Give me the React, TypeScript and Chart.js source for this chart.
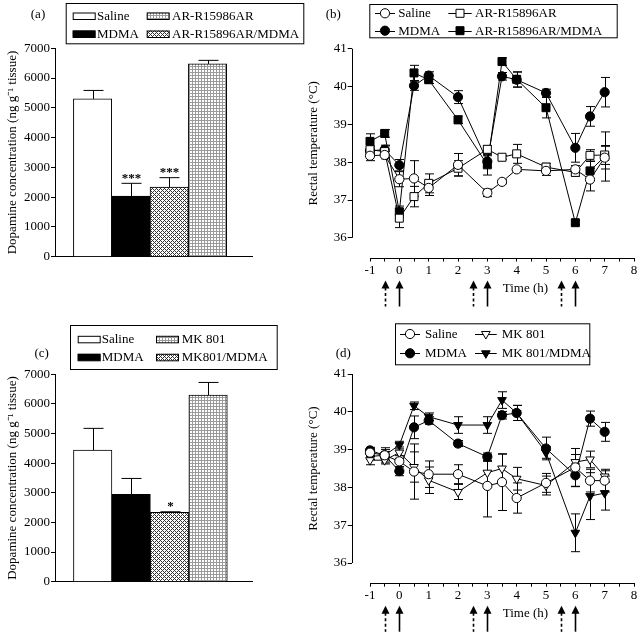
import React, { useEffect, useRef } from 'react';
import { Chart, registerables } from 'chart.js';

Chart.register(...registerables);

const FONT = '"Liberation Serif", "Times New Roman", Times, serif';
Chart.defaults.font.family = FONT;
Chart.defaults.font.size = 13;
Chart.defaults.color = '#000';

// ---------------- data ----------------
// Panel (a)
const barGroupsA = ['Saline', 'MDMA', 'AR-R15896AR/MDMA', 'AR-R15986AR'];
const barValuesA = [5300, 2040, 2340, 6475];
const barErrorsA = [285, 425, 315, 120];
const barStarsA = ['', '***', '***', ''];

// Panel (c)
const barGroupsC = ['Saline', 'MDMA', 'MK801/MDMA', 'MK 801'];
const barValuesC = [4445, 2945, 2340, 6300];
const barErrorsC = [730, 540, 20, 425];
const barStarsC = ['', '', '*', ''];

const concTicks = [0, 1000, 2000, 3000, 4000, 5000, 6000, 7000];
const tempTicks = [36, 37, 38, 39, 40, 41];
const timeTicks = [-1, -0.5, 0, 0.5, 1, 1.5, 2, 2.5, 3, 3.5, 4, 4.5, 5, 5.5, 6, 6.5, 7, 7.5, 8];

const times = [-1, -0.5, 0, 0.5, 1, 2, 3, 3.5, 4, 5, 6, 6.5, 7];
const injectionTimes = [-0.5, 0, 2.5, 3, 5.5, 6];
const injectionDashed = [true, false, true, false, true, false];

// Panel (b)
const salineB = [38.17, 38.19, 37.55, 37.57, 37.32, 37.93, 37.19, 37.48, 37.81, 37.77, 37.81, 37.54, 38.12];
const salineErrB = [0.13, 0.1, 0.2, 0.47, 0.2, 0.3, 0.1, 0.05, 0.05, 0.12, 0.1, 0.3, 0.3];
const arB = [38.33, 38.28, 36.52, 37.09, 37.44, 37.84, 38.34, 38.13, 38.22, 37.87, 37.73, 38.18, 38.19];
const arErrB = [0.1, 0.15, 0.25, 0.27, 0.25, 0.2, 0.1, 0.05, 0.25, 0.1, 0.1, 0.15, 0.25];
const mdmaB = [38.3, 38.33, 37.92, 40.02, 40.29, 39.72, 38.02, 40.27, 40.18, 39.83, 38.38, 39.21, 39.85];
const mdmaErrB = [0.1, 0.12, 0.15, 0.12, 0.1, 0.17, 0.15, 0.1, 0.2, 0.1, 0.38, 0.26, 0.39];
const arMdmaB = [38.55, 38.76, 36.69, 40.36, 40.18, 39.12, 37.93, 40.66, 40.19, 39.44, 36.4, 37.77, 38.15];
const arMdmaErrB = [0.2, 0.1, 0.15, 0.2, 0.1, 0.1, 0.27, 0.1, 0.2, 0.27, 0.05, 0.25, 0.65];

// Panel (d)
const salineD = [38.92, 38.85, 38.69, 38.42, 38.35, 38.35, 38.04, 38.14, 37.72, 38.12, 38.53, 38.18, 38.18];
const salineErrD = [0.1, 0.15, 0.15, 0.73, 0.35, 0.25, 0.82, 0.75, 0.4, 0.25, 0.5, 0.3, 0.3];
const mkD = [38.72, 38.72, 38.92, 38.54, 38.19, 37.88, 38.39, 38.5, 38.23, 38.05, 38.67, 38.74, 38.29];
const mkErrD = [0.12, 0.1, 0.15, 0.4, 0.35, 0.2, 0.3, 0.38, 0.3, 0.25, 0.2, 0.22, 0.15];
const mdmaD = [38.98, 38.85, 38.43, 39.59, 39.77, 39.16, 38.81, 39.91, 39.97, 39.03, 38.32, 39.82, 39.47];
const mdmaErrD = [0.08, 0.1, 0.12, 0.3, 0.1, 0.08, 0.1, 0.1, 0.2, 0.3, 0.3, 0.2, 0.25];
const mkMdmaD = [38.82, 38.85, 39.12, 40.16, 39.87, 39.65, 39.65, 40.31, 39.97, 38.92, 36.8, 37.77, 37.85];
const mkMdmaErrD = [0.08, 0.2, 0.1, 0.1, 0.1, 0.22, 0.22, 0.22, 0.2, 0.15, 0.5, 0.62, 0.45];

// ---------------- helpers ----------------
type Shape = 'circle' | 'rect' | 'triangle';

function makePatterns(ctx: CanvasRenderingContext2D) {
  const light = document.createElement('canvas');
  light.width = 3; light.height = 3;
  const lc = light.getContext('2d')!;
  lc.fillStyle = '#fff'; lc.fillRect(0, 0, 3, 3);
  lc.fillStyle = '#9a9a9a'; lc.fillRect(0, 0, 3, 1); lc.fillRect(0, 0, 1, 3);
  const dark = document.createElement('canvas');
  dark.width = 4; dark.height = 4;
  const dc = dark.getContext('2d')!;
  dc.fillStyle = '#fff'; dc.fillRect(0, 0, 4, 4);
  dc.fillStyle = '#333';
  for (let y = 0; y < 4; y++) for (let x = 0; x < 4; x++) {
    if ((x + y) % 4 === 0 || (x - y + 4) % 4 === 0) dc.fillRect(x, y, 1, 1);
  }
  return {
    light: ctx.createPattern(light, 'repeat') as CanvasPattern,
    dark: ctx.createPattern(dark, 'repeat') as CanvasPattern,
  };
}

function drawMarker(ctx: CanvasRenderingContext2D, shape: Shape, x: number, y: number, filled: boolean) {
  ctx.beginPath();
  if (shape === 'circle') ctx.arc(x, y, 4.6, 0, Math.PI * 2);
  else if (shape === 'rect') ctx.rect(x - 4, y - 4, 8, 8);
  else {
    const r = 5;
    ctx.moveTo(x, y + r);
    ctx.lineTo(x - 0.866 * r, y - 0.5 * r);
    ctx.lineTo(x + 0.866 * r, y - 0.5 * r);
    ctx.closePath();
  }
  ctx.fillStyle = filled ? '#000' : '#fff';
  ctx.fill();
  ctx.strokeStyle = '#000';
  ctx.lineWidth = 1;
  ctx.stroke();
}

function drawYTitle(ctx: CanvasRenderingContext2D, text: string, x: number, cy: number) {
  ctx.save();
  ctx.translate(x, cy);
  ctx.rotate(-Math.PI / 2);
  ctx.font = `13px ${FONT}`;
  ctx.fillStyle = '#000';
  ctx.textAlign = 'center';
  ctx.textBaseline = 'middle';
  ctx.fillText(text, 0, 0);
  ctx.restore();
}

function drawLabel(ctx: CanvasRenderingContext2D, text: string, x: number, y: number) {
  ctx.save();
  ctx.font = `13px ${FONT}`;
  ctx.fillStyle = '#000';
  ctx.textAlign = 'center';
  ctx.textBaseline = 'middle';
  ctx.fillText(text, x, y);
  ctx.restore();
}

type Area = { left: number; top: number; right: number; bottom: number };

// ---------------- bar panel ----------------
type BarProps = {
  left: number; top: number; w: number; h: number; area: Area;
  groups: string[]; values: number[]; errors: number[]; stars: string[];
  panel: string; panelPos: [number, number];
  legendBox: [number, number, number, number];
  legendSwatchX: [number, number]; legendTextX: [number, number]; legendRows: [number, number];
};

function BarPanel(p: BarProps) {
  const ref = useRef<HTMLCanvasElement>(null);
  useEffect(() => {
    const canvas = ref.current!;
    const pats = makePatterns(canvas.getContext('2d')!);
    const fills: (string | CanvasPattern)[] = ['#fff', '#000', pats.dark, pats.light];
    // legend layout: [groupIndex, col, row]
    const legendItems: [number, number, number][] = [[0, 0, 0], [1, 0, 1], [3, 1, 0], [2, 1, 1]];

    const decor = {
      id: 'barDecor',
      afterDatasetsDraw(chart: any) {
        const ctx: CanvasRenderingContext2D = chart.ctx;
        const meta = chart.getDatasetMeta(0);
        const ys = chart.scales.y;
        ctx.save();
        ctx.strokeStyle = '#000';
        ctx.lineWidth = 1;
        meta.data.forEach((el: any, i: number) => {
          const yt = ys.getPixelForValue(p.values[i] + p.errors[i]);
          const x = Math.round(el.x) + 0.5;
          ctx.beginPath();
          ctx.moveTo(x, el.y);
          ctx.lineTo(x, yt);
          ctx.moveTo(x - 10, yt);
          ctx.lineTo(x + 10, yt);
          ctx.stroke();
          if (p.stars[i]) {
            ctx.font = `bold 13px ${FONT}`;
            ctx.fillStyle = '#000';
            ctx.textAlign = 'center';
            ctx.textBaseline = 'alphabetic';
            ctx.fillText(p.stars[i], x, yt - 1.5);
          }
        });
        ctx.restore();
      },
      afterDraw(chart: any) {
        const ctx: CanvasRenderingContext2D = chart.ctx;
        const ca = chart.chartArea;
        drawYTitle(ctx, 'Dopamine concentration (ng g\u207B\u00B9 tissue)', 13, (ca.top + ca.bottom) / 2);
        drawLabel(ctx, p.panel, p.panelPos[0], p.panelPos[1]);
        ctx.save();
        const [bx1, by1, bx2, by2] = p.legendBox;
        ctx.strokeStyle = '#000';
        ctx.lineWidth = 1;
        ctx.strokeRect(bx1 + 0.5, by1 + 0.5, bx2 - bx1, by2 - by1);
        ctx.font = `13px ${FONT}`;
        ctx.textBaseline = 'middle';
        ctx.textAlign = 'left';
        legendItems.forEach(([gi, c, r]) => {
          const sx = p.legendSwatchX[c];
          const sy = p.legendRows[r];
          ctx.fillStyle = fills[gi] as any;
          ctx.fillRect(sx, sy - 3.5, 22.5, 7);
          ctx.strokeRect(sx + 0.5, sy - 3.5 + 0.5, 22, 6.5);
          ctx.fillStyle = '#000';
          ctx.fillText(p.groups[gi], p.legendTextX[c], sy + 0.5);
        });
        ctx.restore();
      },
    };

    const chart = new Chart(canvas, {
      type: 'bar',
      data: {
        datasets: [{
          label: 'Dopamine',
          data: p.values.map((v, i) => ({ x: i + 1, y: v })) as any,
          backgroundColor: fills as any,
          borderColor: '#000',
          borderWidth: 1,
          barPercentage: 1,
          categoryPercentage: 1,
        }],
      },
      options: {
        responsive: false,
        animation: false,
        layout: { padding: { top: p.area.top, right: p.w - p.area.right, bottom: 0, left: 0 } },
        plugins: { legend: { display: false }, tooltip: { enabled: false } },
        scales: {
          x: {
            type: 'linear', min: 0.02, max: 5.16, offset: false,
            afterFit: (s: any) => { s.height = p.h - p.area.bottom; },
            grid: { display: false, offset: false },
            border: { display: true, color: '#000', width: 1 },
            ticks: { display: false },
          },
          y: {
            min: 0, max: 7000,
            afterBuildTicks: (s: any) => { s.ticks = concTicks.map((v) => ({ value: v })); },
            afterFit: (s: any) => { s.width = p.area.left; },
            grid: { display: true, drawOnChartArea: false, drawTicks: true, tickLength: 4, color: '#000' },
            border: { display: true, color: '#000', width: 1 },
            ticks: { padding: 1, callback: (v: any) => String(v), font: { size: 13 } },
          },
        },
      },
      plugins: [decor],
    } as any);
    return () => chart.destroy();
  }, []);
  return (
    <canvas ref={ref} width={p.w} height={p.h}
      style={{ position: 'absolute', left: p.left, top: p.top, width: p.w, height: p.h }} />
  );
}

// ---------------- line panel ----------------
type Series = { label: string; values: number[]; errors: number[]; shape: Shape; filled: boolean; col: number; row: number };
type LineProps = {
  left: number; top: number; w: number; h: number; area: Area;
  series: Series[]; panel: string; panelPos: [number, number];
  legendBox: [number, number, number, number];
  legendLineX: [[number, number], [number, number]]; legendTextX: [number, number]; legendRows: [number, number];
};

function LinePanel(p: LineProps) {
  const ref = useRef<HTMLCanvasElement>(null);
  useEffect(() => {
    const canvas = ref.current!;
    const decor = {
      id: 'lineDecor',
      beforeDatasetsDraw(chart: any) {
        const ctx: CanvasRenderingContext2D = chart.ctx;
        const xs = chart.scales.x;
        const ys = chart.scales.y;
        ctx.save();
        ctx.strokeStyle = '#000';
        ctx.lineWidth = 1;
        chart.data.datasets.forEach((ds: any) => {
          ds.data.forEach((pt: any, i: number) => {
            const e = ds.errors[i];
            const x = Math.round(xs.getPixelForValue(pt.x)) + 0.5;
            const y1 = ys.getPixelForValue(pt.y + e);
            const y2 = ys.getPixelForValue(pt.y - e);
            ctx.beginPath();
            ctx.moveTo(x, y1); ctx.lineTo(x, y2);
            ctx.moveTo(x - 4.5, y1); ctx.lineTo(x + 4.5, y1);
            ctx.moveTo(x - 4.5, y2); ctx.lineTo(x + 4.5, y2);
            ctx.stroke();
          });
        });
        ctx.restore();
      },
      afterDraw(chart: any) {
        const ctx: CanvasRenderingContext2D = chart.ctx;
        const xs = chart.scales.x;
        const ys = chart.scales.y;
        const ca = chart.chartArea;
        ctx.save();
        ctx.strokeStyle = '#000';
        ctx.lineWidth = 1;
        // axis lines
        const yAxisX = Math.round(ca.left) + 0.5;
        ctx.beginPath();
        ctx.moveTo(yAxisX, ys.getPixelForValue(tempTicks[tempTicks.length - 1]));
        ctx.lineTo(yAxisX, ys.getPixelForValue(tempTicks[0]));
        ctx.stroke();
        const xAxisY = Math.round(ca.bottom) + 0.5;
        ctx.beginPath();
        ctx.moveTo(xs.getPixelForValue(timeTicks[0]), xAxisY);
        ctx.lineTo(xs.getPixelForValue(timeTicks[timeTicks.length - 1]), xAxisY);
        ctx.stroke();
        // injection arrows
        injectionTimes.forEach((t, i) => {
          const x = Math.round(xs.getPixelForValue(t)) + 0.5;
          const tip = ca.bottom + 23;
          ctx.fillStyle = '#000';
          ctx.beginPath();
          ctx.moveTo(x, tip);
          ctx.lineTo(x - 4, tip + 8);
          ctx.lineTo(x + 4, tip + 8);
          ctx.closePath();
          ctx.fill();
          ctx.lineWidth = 1.6;
          ctx.setLineDash(injectionDashed[i] ? [3, 2.5] : []);
          ctx.beginPath();
          ctx.moveTo(x, tip + 7);
          ctx.lineTo(x, tip + 26);
          ctx.stroke();
          ctx.setLineDash([]);
          ctx.lineWidth = 1;
        });
        ctx.restore();
        drawLabel(ctx, 'Time (h)', xs.getPixelForValue(4.3), ca.bottom + 31);
        drawYTitle(ctx, 'Rectal temperature (\u00B0C)', 18,
          (ys.getPixelForValue(tempTicks[0]) + ys.getPixelForValue(tempTicks[tempTicks.length - 1])) / 2);
        drawLabel(ctx, p.panel, p.panelPos[0], p.panelPos[1]);
        // legend
        ctx.save();
        const [bx1, by1, bx2, by2] = p.legendBox;
        ctx.strokeStyle = '#000';
        ctx.lineWidth = 1;
        ctx.strokeRect(bx1 + 0.5, by1 + 0.5, bx2 - bx1, by2 - by1);
        p.series.forEach((s) => {
          const [lx1, lx2] = p.legendLineX[s.col];
          const y = p.legendRows[s.row];
          ctx.beginPath();
          ctx.moveTo(lx1, Math.round(y) + 0.5);
          ctx.lineTo(lx2, Math.round(y) + 0.5);
          ctx.strokeStyle = '#000';
          ctx.lineWidth = 1;
          ctx.stroke();
          drawMarker(ctx, s.shape, (lx1 + lx2) / 2, y, s.filled);
          ctx.font = `13px ${FONT}`;
          ctx.fillStyle = '#000';
          ctx.textAlign = 'left';
          ctx.textBaseline = 'middle';
          ctx.fillText(s.label, p.legendTextX[s.col], y + 0.5);
        });
        ctx.restore();
      },
    };

    const chart = new Chart(canvas, {
      type: 'line',
      data: {
        datasets: p.series.map((s) => ({
          label: s.label,
          data: times.map((t, i) => ({ x: t, y: s.values[i] })),
          errors: s.errors,
          borderColor: '#000',
          borderWidth: 1,
          tension: 0,
          fill: false,
          pointStyle: s.shape,
          pointRadius: s.shape === 'rect' ? 5.66 : s.shape === 'triangle' ? 5 : 4.6,
          pointRotation: s.shape === 'triangle' ? 180 : 0,
          pointBackgroundColor: s.filled ? '#000' : '#fff',
          pointBorderColor: '#000',
          pointBorderWidth: 1,
        })) as any,
      },
      options: {
        responsive: false,
        animation: false,
        layout: { padding: { top: p.area.top, right: p.w - p.area.right, bottom: 0, left: 0 } },
        plugins: { legend: { display: false }, tooltip: { enabled: false } },
        scales: {
          x: {
            type: 'linear', min: -1.624, max: 8,
            afterBuildTicks: (s: any) => { s.ticks = timeTicks.map((v) => ({ value: v })); },
            afterFit: (s: any) => { s.height = p.h - p.area.bottom; },
            grid: { display: true, drawOnChartArea: false, drawTicks: true, tickLength: 4, color: '#000' },
            border: { display: false },
            ticks: {
              autoSkip: false, maxRotation: 0, minRotation: 0, padding: 1,
              callback: (v: any) => (Number.isInteger(v) ? String(v) : ''),
              font: { size: 13 },
            },
          },
          y: {
            type: 'linear', min: 35.48, max: 41,
            afterBuildTicks: (s: any) => { s.ticks = tempTicks.map((v) => ({ value: v })); },
            afterFit: (s: any) => { s.width = p.area.left; },
            grid: { display: true, drawOnChartArea: false, drawTicks: true, tickLength: 4, color: '#000' },
            border: { display: false },
            ticks: { padding: 1, callback: (v: any) => String(v), font: { size: 13 } },
          },
        },
      },
      plugins: [decor],
    } as any);
    return () => chart.destroy();
  }, []);
  return (
    <canvas ref={ref} width={p.w} height={p.h}
      style={{ position: 'absolute', left: p.left, top: p.top, width: p.w, height: p.h }} />
  );
}

const seriesB: Series[] = [
  { label: 'Saline', values: salineB, errors: salineErrB, shape: 'circle', filled: false, col: 0, row: 0 },
  { label: 'AR-R15896AR', values: arB, errors: arErrB, shape: 'rect', filled: false, col: 1, row: 0 },
  { label: 'MDMA', values: mdmaB, errors: mdmaErrB, shape: 'circle', filled: true, col: 0, row: 1 },
  { label: 'AR-R15896AR/MDMA', values: arMdmaB, errors: arMdmaErrB, shape: 'rect', filled: true, col: 1, row: 1 },
];

const seriesD: Series[] = [
  { label: 'Saline', values: salineD, errors: salineErrD, shape: 'circle', filled: false, col: 0, row: 0 },
  { label: 'MK 801', values: mkD, errors: mkErrD, shape: 'triangle', filled: false, col: 1, row: 0 },
  { label: 'MDMA', values: mdmaD, errors: mdmaErrD, shape: 'circle', filled: true, col: 0, row: 1 },
  { label: 'MK 801/MDMA', values: mkMdmaD, errors: mkMdmaErrD, shape: 'triangle', filled: true, col: 1, row: 1 },
];

export default function App() {
  return (
    <div style={{ position: 'absolute', left: 0, top: 0, width: 640, height: 633, background: '#fff', overflow: 'hidden' }}>
      <BarPanel
        left={0} top={0} w={320} h={316}
        area={{ left: 55, top: 48.3, right: 252, bottom: 256.7 }}
        groups={barGroupsA} values={barValuesA} errors={barErrorsA} stars={barStarsA}
        panel="(a)" panelPos={[38, 15]}
        legendBox={[65.7, 3, 303.3, 43.3]}
        legendSwatchX={[72.7, 146.7]} legendTextX={[97, 172]} legendRows={[16, 34]}
      />
      <BarPanel
        left={0} top={316} w={320} h={317}
        area={{ left: 55, top: 58.3, right: 252.7, bottom: 265.7 }}
        groups={barGroupsC} values={barValuesC} errors={barErrorsC} stars={barStarsC}
        panel="(c)" panelPos={[41.7, 37.3]}
        legendBox={[70, 9, 276.7, 53]}
        legendSwatchX={[77.7, 156]} legendTextX={[101.7, 181.7]} legendRows={[23.3, 41.3]}
      />
      <LinePanel
        left={296} top={0} w={346} h={316}
        area={{ left: 55.7, top: 48.7, right: 338, bottom: 257.5 }}
        series={seriesB} panel="(b)" panelPos={[37.3, 15]}
        legendBox={[73.3, 4, 320.7, 37.3]}
        legendLineX={[[79, 99], [152.3, 175.7]]} legendTextX={[102.3, 179]} legendRows={[13.3, 30.7]}
      />
      <LinePanel
        left={296} top={316} w={346} h={317}
        area={{ left: 55.7, top: 58, right: 338, bottom: 266.7 }}
        series={seriesD} panel="(d)" panelPos={[47.3, 37.3]}
        legendBox={[99, 7.3, 293.3, 48.3]}
        legendLineX={[[104, 124], [179, 200.7]]} legendTextX={[129, 205.7]} legendRows={[18, 37.3]}
      />
    </div>
  );
}
